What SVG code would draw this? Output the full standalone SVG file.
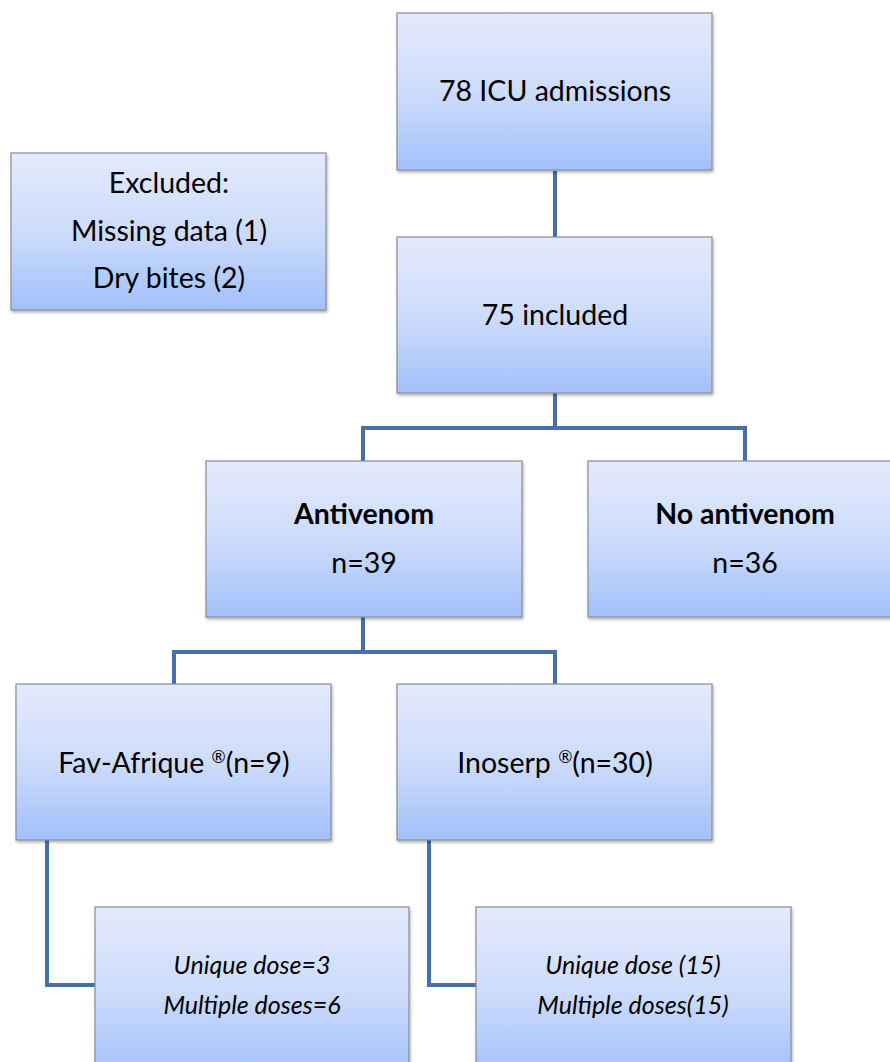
<svg xmlns="http://www.w3.org/2000/svg" width="890" height="1062" viewBox="0 0 890 1062">
<style>
.box{fill:url(#g);stroke:#8a8d94;stroke-width:1.2;filter:url(#sh)}
.t{font-family:Lato,"Open Sans","Liberation Sans",sans-serif;font-size:28.5px;fill:#000;text-anchor:middle}
.b{font-weight:bold}
.i{font-style:italic;font-size:25px}
.c{fill:none;stroke:#4671a6;stroke-width:4}
</style>
<defs>
<linearGradient id="g" x1="0" y1="0" x2="0" y2="1">
<stop offset="0" stop-color="#e3eafc"/>
<stop offset="0.5" stop-color="#cddcfb"/>
<stop offset="1" stop-color="#a2c0fa"/>
</linearGradient>
<filter id="sh" x="-5%" y="-5%" width="112%" height="115%">
<feDropShadow dx="1" dy="2" stdDeviation="1.5" flood-color="#000" flood-opacity="0.3"/>
</filter>
</defs>
<g id="connectors">
<path class="c" d="M555 171V237"/>
<path class="c" d="M555 393V428H363V461M555 428H745V461"/>
<path class="c" d="M363 617V652H174V684M363 652H555V684"/>
<path class="c" d="M47 840V985H95"/>
<path class="c" d="M429 840V985H476"/>
</g>
<g id="n1"><rect class="box" x="397" y="13" width="315" height="157"/><text class="t" x="555" y="101">78 ICU admissions</text></g>
<g id="n2"><rect class="box" x="11" y="153" width="315" height="157"/>
<text class="t" x="169" y="193">Excluded:</text>
<text class="t" x="169" y="241">Missing data (1)</text>
<text class="t" x="169" y="288">Dry bites (2)</text></g>
<g id="n3"><rect class="box" x="397" y="237" width="315" height="156"/><text class="t" x="555" y="325">75 included</text></g>
<g id="n4"><rect class="box" x="206" y="461" width="316" height="156"/>
<text class="t b" x="364" y="524">Antivenom</text>
<text class="t" x="364" y="573">n=39</text></g>
<g id="n5"><rect class="box" x="588" y="461" width="315" height="156"/>
<text class="t b" x="745" y="524">No antivenom</text>
<text class="t" x="745" y="573">n=36</text></g>
<g id="n6"><rect class="box" x="16" y="684" width="315" height="156"/>
<text class="t" x="174" y="773">Fav-Afrique <tspan font-size="17" dy="-10">®</tspan><tspan dy="10">(n=9)</tspan></text></g>
<g id="n7"><rect class="box" x="397" y="684" width="315" height="156"/>
<text class="t" x="555" y="773">Inoserp <tspan font-size="17" dy="-10">®</tspan><tspan dy="10">(n=30)</tspan></text></g>
<g id="n8"><rect class="box" x="95" y="907" width="314" height="170"/>
<text class="t i" x="252" y="974">Unique dose=3</text>
<text class="t i" x="252" y="1014">Multiple doses=6</text></g>
<g id="n9"><rect class="box" x="476" y="907" width="315" height="170"/>
<text class="t i" x="633" y="974">Unique dose (15)</text>
<text class="t i" x="633" y="1014">Multiple doses(15)</text></g>
</svg>
